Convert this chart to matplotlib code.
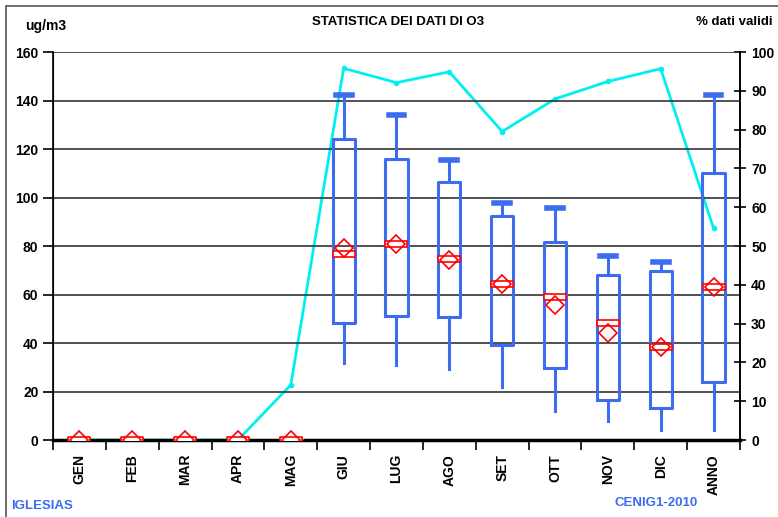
import numpy as np
import matplotlib.pyplot as plt
from matplotlib.patches import Rectangle

plt.rcParams['font.family'] = ['Liberation Sans', 'DejaVu Sans']
plt.rcParams['font.weight'] = 'bold'

# categories and statistics (ug/m3)
months = ['GEN', 'FEB', 'MAR', 'APR', 'MAG', 'GIU', 'LUG', 'AGO', 'SET', 'OTT', 'NOV', 'DIC', 'ANNO']
whis_lo = [0, 0, 0, 0, 0, 31.8, 30.9, 29.1, 21.9, 12.0, 8.0, 4.1, 4.1]
q1 = [0, 0, 0, 0, 0, 48.2, 51.3, 50.7, 39.3, 29.7, 16.5, 13.1, 24.0]
median = [0, 0, 0, 0, 0, 76.7, 80.8, 74.6, 64.3, 58.8, 48.1, 38.5, 63.2]
q3 = [0, 0, 0, 0, 0, 124.1, 116.0, 106.3, 92.4, 81.8, 68.0, 69.6, 110.0]
whis_hi = [0, 0, 0, 0, 0, 142.3, 133.9, 115.6, 97.7, 95.5, 75.7, 73.3, 142.3]
mean = [0, 0, 0, 0, 0, 79.2, 81.0, 74.2, 64.3, 55.5, 44.0, 38.5, 63.0]
has_box = [False, False, False, False, True, True, True, True, True, True, True, True, True]
# percentage of valid data
valid_pct = [0, 0, 0, 0, 14.2, 95.8, 92.1, 94.9, 79.5, 87.9, 92.4, 95.7, 54.6]

blue = '#3c6cf0'
fig = plt.figure(figsize=(7.78, 5.17), dpi=100)
fig.patches.append(Rectangle((0.008, -0.01), 1.1, 0.999, transform=fig.transFigure,
                             fill=False, edgecolor='#555555', linewidth=1.2))
ax = fig.add_axes([0.0681, 0.1489, 0.8830, 0.7505])

x = np.arange(len(months))
stats = []
pos = []
for i in range(len(months)):
    if has_box[i]:
        stats.append(dict(med=median[i], q1=q1[i], q3=q3[i], whislo=whis_lo[i], whishi=whis_hi[i]))
        pos.append(x[i])
bp = ax.bxp(stats, positions=pos, widths=0.42, capwidths=0.3, showfliers=False,
            boxprops=dict(color=blue, linewidth=2.2),
            whiskerprops=dict(color=blue, linewidth=2.2),
            capprops=dict(color=blue, linewidth=4),
            medianprops=dict(linewidth=0), zorder=3)
for c in bp['caps'][::2]:
    c.set_visible(False)

rect = [(-4, -1), (4, -1), (4, 1), (-4, 1), (-4, -1)]
ax.plot(x, median, linestyle='none', marker=rect, markersize=16, mfc='white', mec='red',
        mew=1.2, zorder=4)
ax.plot(x, mean, linestyle='none', marker='D', markersize=9, mfc='none', mec='red',
        mew=1.2, zorder=5)

ax.set_xlim(-0.5, len(months) - 0.5)
ax.set_ylim(0, 160)
ax.set_yticks(np.arange(0, 161, 20))
ax.yaxis.grid(True, color='#333333', linewidth=1.2)
ax.set_axisbelow(True)
ax.tick_params(axis='y', direction='out', length=7, width=1.2, labelsize=10)
ax.set_xticks(x)
ax.set_xticklabels(months, rotation=90, fontsize=10, fontweight='bold')
ax.tick_params(axis='x', length=0, pad=10)
ax.set_xticks(np.arange(-0.5, len(months), 1), minor=True)
ax.tick_params(axis='x', which='minor', direction='out', length=7, width=1.2)
ax.spines['top'].set_visible(False)
ax.spines['bottom'].set_linewidth(2.5)
ax.spines['left'].set_linewidth(1.2)
ax.spines['right'].set_linewidth(1.2)

ax2 = ax.twinx()
ax2.plot(x, valid_pct, color='#00f0f0', linewidth=2, marker='o', markersize=3, zorder=2)
ax2.set_ylim(0, 100)
ax2.set_yticks(np.arange(0, 101, 10))
ax2.tick_params(axis='y', direction='inout', length=9, width=1.2, labelsize=10)
ax2.spines['top'].set_visible(False)
ax2.spines['right'].set_linewidth(1.2)
ax.set_zorder(ax2.get_zorder() + 1)
ax.patch.set_visible(False)

fig.text(0.512, 0.957, 'STATISTICA DEI DATI DI O3', ha='center', va='center', fontsize=9.5, fontweight='bold')
fig.text(0.032, 0.95, 'ug/m3', ha='left', va='center', fontsize=10, fontweight='bold')
fig.text(0.993, 0.957, '% dati validi', ha='right', va='center', fontsize=9.5, fontweight='bold')
fig.text(0.014, 0.022, 'IGLESIAS', ha='left', va='center', fontsize=9.5, fontweight='bold', color=blue)
fig.text(0.79, 0.028, 'CENIG1-2010', ha='left', va='center', fontsize=9.5, fontweight='bold', color=blue)

fig.savefig('out.png', dpi=100)
